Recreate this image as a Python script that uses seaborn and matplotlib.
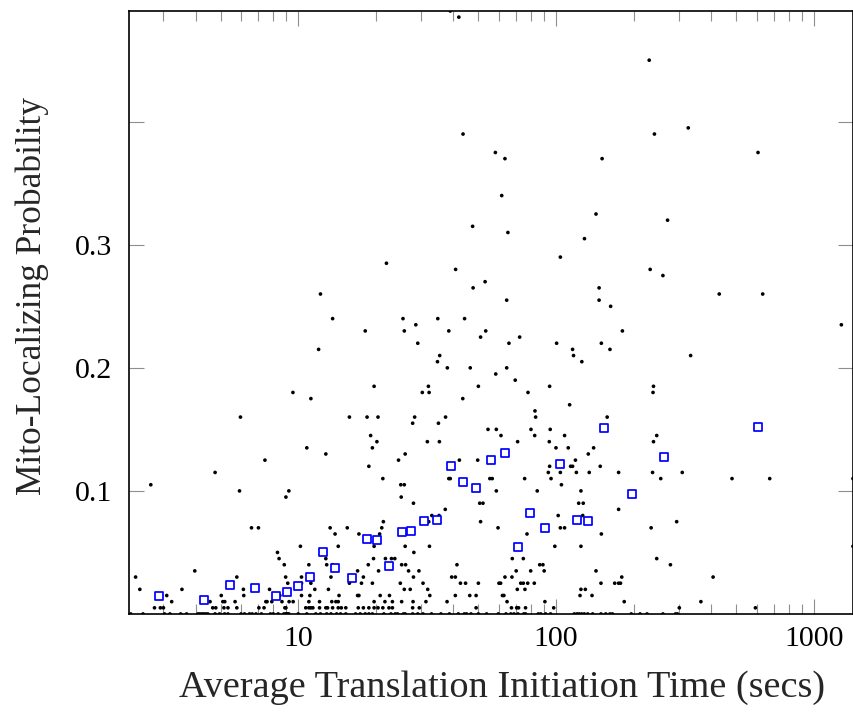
import matplotlib
matplotlib.use("Agg")
import matplotlib.pyplot as plt
import numpy as np
import pandas as pd
import seaborn as sns
from matplotlib.ticker import LogLocator, NullFormatter, FixedLocator, FixedFormatter

# ---------------- data ----------------
# blue squares: binned averages
avg_time = [2.88, 4.32, 5.43, 6.79, 8.17, 9.04, 9.97, 11.1, 12.5, 13.9, 16.1,
            18.5, 20.3, 22.6, 25.3, 27.4, 30.8, 34.6, 39.0, 43.5, 49.1, 56.2,
            63.6, 71.0, 79.3, 90.9, 103.9, 120.6, 132.7, 153.6, 197.2, 262.5, 609.5]
avg_prob = [0.0149, 0.0114, 0.0233, 0.0214, 0.0149, 0.0181, 0.0228, 0.0301, 0.0507,
            0.0372, 0.0290, 0.0612, 0.0602, 0.0390, 0.0664, 0.0677, 0.0756, 0.0762,
            0.1206, 0.1071, 0.1027, 0.1250, 0.1311, 0.0545, 0.0824, 0.0697, 0.1217,
            0.0762, 0.0754, 0.1512, 0.0973, 0.1274, 0.1518]

# black dots: individual genes (time, probability)
gene_points = [
    (38.9, 0.49), (42.0, 0.485), (43.6, 0.39), (47.5, 0.315),
    (230, 0.45), (241, 0.39), (326, 0.395), (58.2, 0.375), (63.4, 0.37), (151, 0.37),
    (608, 0.375), (61.6, 0.34), (143, 0.325), (271, 0.32), (65.1, 0.31), (129, 0.305),
    (12.2, 0.26), (13.6, 0.24), (18.2, 0.23), (12.0, 0.215), (9.54, 0.18), (11.2, 0.175),
    (5.97, 0.16), (15.8, 0.16), (18.5, 0.16),
    (104, 0.29), (22.0, 0.285), (40.8, 0.28), (53.1, 0.27), (47.7, 0.265), (147, 0.265),
    (64.4, 0.255), (147, 0.255), (163, 0.25), (25.5, 0.24), (34.8, 0.24), (44.2, 0.24),
    (28.6, 0.235), (25.8, 0.23), (38.4, 0.23), (53.4, 0.23), (51.0, 0.225), (72.3, 0.225),
    (29.1, 0.22), (65.7, 0.22), (100.6, 0.22), (150, 0.22), (116, 0.215), (162, 0.215),
    (35.4, 0.21), (117, 0.21), (34.7, 0.205), (126, 0.205), (37.9, 0.2), (46.5, 0.2),
    (64.4, 0.2), (58.4, 0.195), (69.5, 0.19), (19.7, 0.185), (32.0, 0.185), (50, 0.185),
    (94.5, 0.185), (30.3, 0.18), (32.2, 0.18), (77.9, 0.18), (43.5, 0.175), (113, 0.17),
    (82.9, 0.165), (20.4, 0.16), (28.3, 0.16), (37.3, 0.16), (83.4, 0.16), (158, 0.16),
    (27.8, 0.155), (35.0, 0.155), (54.5, 0.15), (58.7, 0.15), (80, 0.15), (95.0, 0.15),
    (19.1, 0.145), (61.2, 0.145), (82.7, 0.145), (108, 0.145), (20.2, 0.14), (31.7, 0.14),
    (35.3, 0.14), (71.0, 0.14), (94.2, 0.14),
    (232, 0.28), (260, 0.275), (430, 0.26), (634, 0.26), (181, 0.23), (1280, 0.235),
    (333, 0.21), (239, 0.185), (238, 0.18), (246, 0.145), (239, 0.14),
    (4.76, 0.115), (2.68, 0.105), (5.92, 0.1), (2.34, 0.03), (3.97, 0.035), (5.78, 0.03),
    (2.43, 0.02), (3.54, 0.02), (6.13, 0.02), (3.09, 0.015), (5.03, 0.015), (6.15, 0.015),
    (3.23, 0.01), (4.55, 0.01), (5.1, 0.01), (5.19, 0.01), (5.69, 0.01),
    (2.77, 0.005), (2.92, 0.005), (3.0, 0.005), (4.66, 0.005), (4.79, 0.005),
    (5.15, 0.005), (5.34, 0.005), (5.78, 0.005),
    (10.8, 0.135), (12.8, 0.13), (7.43, 0.125), (18.8, 0.12), (9.2, 0.1), (8.96, 0.095),
    (6.59, 0.07), (7.01, 0.07), (13.3, 0.07), (15.5, 0.07), (13.9, 0.065), (17.2, 0.065),
    (14.3, 0.055), (10.2, 0.055), (8.31, 0.05), (8.43, 0.045), (12.8, 0.045), (8.83, 0.04),
    (11.0, 0.04), (12.9, 0.04), (13.6, 0.04), (18.7, 0.04), (17.0, 0.035), (8.94, 0.03),
    (10.3, 0.03), (13.4, 0.03), (17.9, 0.03), (9.11, 0.025), (10.3, 0.025), (11.2, 0.025),
    (15.8, 0.025), (17.6, 0.025), (7.74, 0.02), (11.6, 0.02), (13.1, 0.02), (8.49, 0.015),
    (10.3, 0.015), (11.1, 0.015), (14.4, 0.015), (17.0, 0.015), (17.2, 0.015),
    (19.4, 0.135), (26.0, 0.13), (24.5, 0.125), (42.2, 0.125), (49.7, 0.125), (21.3, 0.11),
    (25.0, 0.105), (25.8, 0.105), (38.4, 0.11), (38.9, 0.11), (55.4, 0.11), (25.1, 0.095),
    (28.0, 0.09), (37.2, 0.085), (50.6, 0.09), (52.1, 0.09), (33.0, 0.08), (35.2, 0.08),
    (21.4, 0.075), (32.1, 0.075), (51.0, 0.075), (21.1, 0.07), (20.7, 0.065), (19.7, 0.055),
    (26.0, 0.055), (32.3, 0.055), (28.1, 0.05), (19.6, 0.045), (21.8, 0.045), (23.0, 0.045),
    (23.7, 0.045), (25.2, 0.04), (26.1, 0.04), (41.3, 0.04), (20.5, 0.035), (26.8, 0.035),
    (29.4, 0.035), (28.0, 0.03), (39.4, 0.03), (40.7, 0.03), (19.4, 0.025), (24.9, 0.025),
    (30.5, 0.025), (42.6, 0.025), (44.6, 0.025), (50, 0.025), (25.8, 0.02), (27.2, 0.02),
    (31.8, 0.02), (32.4, 0.015), (20.8, 0.015), (22.6, 0.015), (40.7, 0.015), (46.3, 0.015),
    (49, 0.015),
    (100, 0.135), (111.6, 0.135), (140, 0.135), (133.5, 0.13), (119, 0.125), (94.5, 0.12),
    (114, 0.12), (116, 0.12), (148.5, 0.12), (93.4, 0.115), (104, 0.115), (120, 0.115),
    (134.6, 0.115), (56.6, 0.11), (75.6, 0.11), (95.7, 0.11), (105, 0.105), (58.7, 0.1),
    (84.6, 0.1), (125, 0.1), (122.5, 0.09), (127.6, 0.09), (102, 0.08), (127, 0.08),
    (119, 0.075), (59.6, 0.07), (104, 0.07), (108, 0.07), (77.2, 0.065), (150, 0.065),
    (70.8, 0.055), (99, 0.055), (125, 0.055), (67.7, 0.045), (74.7, 0.045), (86.5, 0.04),
    (89, 0.04), (70.1, 0.035), (79.8, 0.035), (90, 0.035), (143, 0.035), (63.4, 0.03),
    (67.5, 0.03), (60.1, 0.025), (61.0, 0.025), (73.0, 0.025), (74.7, 0.025), (77.7, 0.025),
    (82.4, 0.025), (149.5, 0.025), (70.8, 0.02), (75.8, 0.02), (125, 0.02), (130, 0.02),
    (62, 0.015), (62.8, 0.015), (124, 0.015), (138, 0.015), (64.6, 0.01), (90.6, 0.01),
    (175, 0.115), (237, 0.115), (309, 0.115), (482, 0.11), (255, 0.11), (175, 0.085),
    (294, 0.075), (234, 0.07), (246, 0.045), (278, 0.04), (180, 0.03), (407, 0.03),
    (169, 0.025), (175, 0.025), (178, 0.025), (184, 0.01), (365, 0.01), (301, 0.005),
    (675, 0.11), (1420, 0.11), (1420, 0.055), (594, 0.005),
]

# rows of dots at probability 0.01, 0.005 and 0
times_p010 = [7.49, 7.57, 7.9, 8.65, 9.22, 9.56, 11.0, 12.1, 13.5, 14.0, 14.3,
              19.7, 21.7, 23.2, 25.2, 27.9, 31.3, 37.8]
times_p005 = [7.04, 7.37, 8.88, 8.96, 10.7, 11.0, 11.2, 11.4, 12.1, 12.8, 13.0, 13.6,
              14.3, 14.7, 15.3, 17.1, 17.9, 18.8, 19.7, 20.4, 21.3, 22.5, 23.2, 27.8,
              29.5, 49.0, 67.2, 70.4, 71.6, 76.2, 98.0]
times_p000 = [2.24, 2.50, 3.03, 3.18, 3.5, 3.69, 4.08, 4.15, 4.23, 4.30, 4.38, 4.46,
              4.76, 4.95, 5.18, 5.34, 6.0, 6.19,
              6.47, 6.63, 6.86, 7.2, 7.8, 8.0, 8.36, 8.8, 8.94, 9.02, 9.1, 9.2, 10, 10.8,
              11.7, 12.2, 12.9, 13.4, 14.1, 14.6, 15.3, 16.7, 17.4, 18.2, 18.8,
              19.4, 21.5, 22.9, 23.8, 24.3, 25.6, 26.0, 27.8, 29.1, 30.5, 32.9, 35.8,
              38.6, 41.8, 44.1, 45.0, 46.8, 50.0, 53.8,
              59.7, 64.0, 66.8, 68.7, 71.2, 75.0, 76.2, 85.4, 87.3, 91.2, 95.3, 117.8,
              120.6, 123, 125.8, 128.8, 132.8, 138.8, 149.5, 156, 162,
              165.6, 196, 212, 225.6, 260, 291, 296]

x_ticks = [10, 100, 1000]
x_tick_labels = ["10", "100", "1000"]
y_ticks = [0.1, 0.2, 0.3, 0.4]
y_tick_labels = ["0.1", "0.2", "0.3", ""]

# ---------------- build tables ----------------
gx = [p[0] for p in gene_points] + times_p010 + times_p005 + times_p000
gy = ([p[1] for p in gene_points] + [0.01] * len(times_p010)
      + [0.005] * len(times_p005) + [0.0] * len(times_p000))
genes = pd.DataFrame({"time": gx, "prob": gy})
avgs = pd.DataFrame({"time": avg_time, "prob": avg_prob})

# ---------------- plot ----------------
sns.set_theme(style="white")
plt.rcParams["font.family"] = ["Liberation Serif", "DejaVu Serif"]

fig = plt.figure(figsize=(8.54, 7.13), dpi=100)
ax = fig.add_axes([0.1507, 0.1389, 0.8481, 0.8457])

sns.scatterplot(data=genes, x="time", y="prob", ax=ax, color="black",
                marker="o", s=7, edgecolor="none", linewidth=0, zorder=2)
sns.scatterplot(data=avgs, x="time", y="prob", ax=ax, color="blue",
                marker="s", s=38, facecolor="white", edgecolor="#0000ff",
                linewidth=1.25, zorder=3)

ax.set_xscale("log")
ax.set_xlim(2.2, 1420)
ax.set_ylim(0, 0.49)

ax.xaxis.set_major_locator(FixedLocator(x_ticks))
ax.xaxis.set_major_formatter(FixedFormatter(x_tick_labels))
ax.xaxis.set_minor_locator(LogLocator(base=10, subs=np.arange(2, 10)))
ax.xaxis.set_minor_formatter(NullFormatter())
ax.yaxis.set_major_locator(FixedLocator(y_ticks))
ax.yaxis.set_major_formatter(FixedFormatter(y_tick_labels))

tick_col = "#8f8f8f"
ax.tick_params(axis="both", which="major", direction="in", length=10.5, width=0.8,
               color=tick_col, labelcolor="black", labelsize=21.5,
               top=True, right=True, bottom=True, left=True)
ax.tick_params(axis="x", which="minor", direction="in", length=7.2, width=0.8,
               color=tick_col, top=True, bottom=True)
ax.tick_params(axis="x", which="major", pad=9)
ax.tick_params(axis="y", which="major", pad=12)

for sp in ax.spines.values():
    sp.set_visible(True)
    sp.set_color("black")
    sp.set_linewidth(1.2)

ax.set_xlabel("Average Translation Initiation Time (secs)", fontsize=27.5)
ax.set_ylabel("Mito-Localizing Probability", fontsize=25.5)
ax.xaxis.set_label_coords(0.515, -0.094)
ax.yaxis.set_label_coords(-0.11, 0.527)
ax.grid(False)

fig.savefig("out.png", dpi=100)
